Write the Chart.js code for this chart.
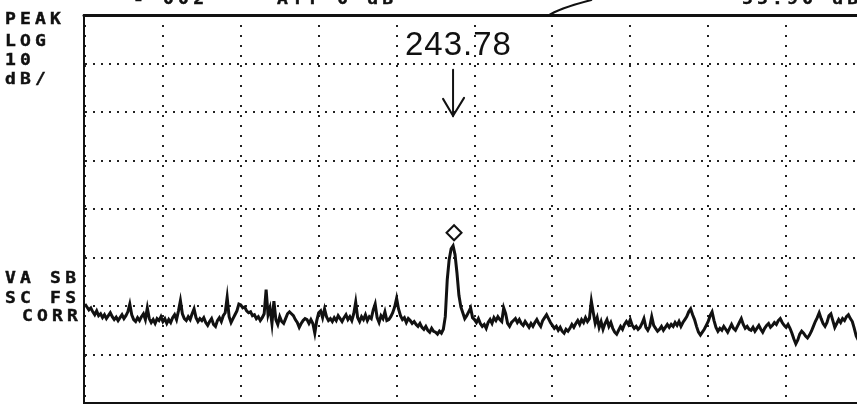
<!DOCTYPE html>
<html>
<head>
<meta charset="utf-8">
<script src="https://cdn.jsdelivr.net/npm/chart.js@4.4.1/dist/chart.umd.min.js"></script>
<style>
body{margin:0;background:#fff;overflow:hidden;}
#wrap{position:relative;width:857px;height:406px;overflow:hidden;background:#fff;}
#spec{position:absolute;left:0;top:0;}
.lbl{position:absolute;font-family:"DejaVu Sans Mono",monospace;font-weight:bold;font-size:15px;line-height:15px;letter-spacing:3.5px;color:#111;white-space:pre;transform:scaleX(1.2);transform-origin:0 0;-webkit-text-stroke:0.4px #111;}
.hand{position:absolute;font-family:"Liberation Sans",sans-serif;font-size:33px;line-height:33px;color:#111;white-space:pre;letter-spacing:1px;}
</style>
</head>
<body>
<div id="wrap">
<canvas id="spec" width="870" height="406"></canvas>
</div>
<script>
// trace, 401 points across 10 divisions, dB (top of screen = 0 dB, 10 dB/div)
const traceDb = [
-59.6,-60.2,-60.8,-60.4,-61.2,-61.8,-61.0,-62.0,-61.6,-62.4,-61.8,-62.6,-62.0,-61.4,-62.2,-62.8,-62.3,-63.0,-62.4,-61.8,
-62.6,-62.0,-61.2,-59.6,-61.8,-62.8,-63.2,-62.4,-63.0,-62.2,-61.6,-62.8,-60.4,-62.6,-63.4,-62.8,-63.6,-62.6,-63.0,-62.2,
-63.2,-62.6,-63.6,-62.8,-63.4,-62.4,-61.8,-62.8,-61.0,-58.9,-61.6,-62.6,-63.0,-62.2,-62.8,-61.6,-60.6,-62.4,-63.2,-62.6,
-63.0,-62.4,-63.4,-64.0,-63.2,-62.6,-63.8,-64.2,-63.0,-62.4,-63.2,-62.0,-61.4,-58.2,-62.2,-63.4,-62.6,-61.8,-61.0,-59.6,
-59.8,-60.4,-60.2,-61.0,-61.4,-61.2,-62.0,-61.8,-62.6,-62.2,-63.0,-62.4,-61.6,-56.6,-61.8,-60.4,-63.6,-59.0,-62.8,-63.8,
-62.2,-63.2,-63.6,-62.6,-61.6,-61.2,-61.6,-62.0,-62.8,-63.4,-64.4,-63.6,-63.0,-62.6,-62.8,-63.6,-62.8,-63.6,-65.6,-63.0,
-61.4,-61.0,-62.4,-60.6,-62.2,-63.0,-62.6,-63.2,-62.4,-63.0,-62.0,-62.6,-63.2,-62.4,-61.8,-62.8,-62.2,-63.0,-61.6,-59.2,
-62.4,-63.2,-62.2,-62.8,-61.8,-63.0,-62.2,-62.6,-60.8,-59.6,-62.4,-63.4,-62.0,-62.6,-61.2,-63.0,-62.8,-62.2,-61.4,-60.2,
-58.4,-60.6,-62.0,-62.8,-62.4,-63.4,-62.6,-63.0,-63.6,-63.2,-63.8,-64.2,-63.6,-64.4,-64.8,-64.2,-65.0,-65.4,-64.6,-65.2,
-65.4,-65.8,-65.2,-65.6,-64.8,-62.2,-54.6,-50.4,-48.2,-47.6,-49.4,-53.2,-57.8,-60.2,-61.4,-62.6,-62.0,-61.2,-60.4,-62.4,
-62.8,-63.4,-62.6,-63.6,-64.2,-63.8,-64.6,-63.4,-62.8,-63.6,-62.4,-63.0,-62.2,-62.8,-63.2,-60.4,-61.6,-63.6,-64.2,-63.4,
-63.0,-62.6,-63.4,-62.8,-63.6,-64.0,-63.2,-63.8,-64.4,-63.6,-64.2,-63.4,-62.8,-63.6,-64.2,-63.0,-62.4,-61.8,-62.6,-63.4,
-64.0,-64.6,-64.2,-65.0,-64.4,-65.2,-65.6,-64.8,-65.2,-64.6,-63.8,-64.4,-63.6,-63.0,-63.8,-62.8,-63.4,-62.4,-63.2,-62.6,
-59.0,-61.4,-63.6,-62.4,-64.4,-63.2,-64.8,-63.6,-62.8,-64.2,-63.4,-64.6,-65.4,-65.8,-65.0,-64.2,-64.8,-63.8,-63.2,-63.8,
-62.8,-64.0,-64.6,-64.2,-64.8,-64.4,-63.6,-62.6,-64.4,-65.0,-64.2,-62.2,-64.0,-64.6,-65.2,-64.8,-64.2,-65.0,-64.4,-63.8,
-64.4,-63.8,-64.2,-63.4,-64.0,-63.2,-64.2,-63.4,-62.8,-62.2,-61.2,-60.6,-61.8,-62.8,-64.2,-65.4,-66.0,-65.4,-64.8,-64.0,
-63.2,-62.0,-61.2,-63.0,-64.4,-65.2,-64.6,-65.0,-64.2,-64.8,-65.4,-64.6,-63.8,-64.6,-65.0,-64.2,-63.4,-62.6,-63.8,-64.6,
-64.2,-64.8,-65.0,-64.4,-65.2,-64.6,-64.0,-64.8,-65.4,-64.6,-64.0,-63.6,-64.4,-64.0,-63.4,-63.8,-63.0,-62.6,-63.4,-64.0,
-64.4,-63.8,-64.6,-65.6,-66.8,-67.8,-67.0,-65.8,-65.2,-65.6,-66.2,-66.6,-66.0,-65.2,-64.2,-63.2,-62.4,-61.4,-62.6,-63.6,
-64.2,-63.4,-62.0,-61.6,-63.0,-64.4,-63.6,-62.8,-63.4,-62.6,-63.0,-62.2,-61.8,-62.6,-63.2,-64.6,-66.2,-67.0,-66.0,-65.2,
-64.6
];

// marker (diamond) and the pen note above it
const markerIndex = [189.5];
const markerDb = [-44.9];
const markerNote = '243.78';

// graticule: 10 x 8 divisions
const xGrid = [0,40,80,120,160,200,240,280,320,360,400];
const dbGrid = [-80,-70,-60,-50,-40,-30,-20,-10,0];

// screen annotations
const leftTop = ['PEAK','LOG','10','dB/'];
const leftMid = ['VA SB','SC FS','CORR'];
const header = ['- 002','ATT 0 dB','55.90 dB'];

const wrap = document.getElementById('wrap');
function addLabel(cls, txt, left, top){
  const d = document.createElement('div');
  d.className = cls;
  d.textContent = txt;
  d.style.left = left + 'px';
  d.style.top = top + 'px';
  wrap.appendChild(d);
}
[12,34,53,72].forEach((t,i)=>addLabel('lbl', leftTop[i], 5, t));
addLabel('lbl', leftMid[0], 5, 271);
addLabel('lbl', leftMid[1], 5, 291);
addLabel('lbl', leftMid[2], 22, 309);
addLabel('lbl', header[0], 133, -8);
addLabel('lbl', header[1], 277, -8);
addLabel('lbl', header[2], 742, -8);
addLabel('hand', markerNote, 405, 27);

const plotter = {
  id:'plotter',
  afterDraw(chart){
    const {ctx, chartArea:a, scales:{x,y}} = chart;
    ctx.save();
    ctx.strokeStyle = '#111';
    ctx.lineCap = 'round';
    // frame
    ctx.lineWidth = 3;
    ctx.beginPath(); ctx.moveTo(a.left-1, a.top+0.5); ctx.lineTo(a.right, a.top+0.5); ctx.stroke();
    ctx.lineWidth = 2;
    ctx.beginPath(); ctx.moveTo(a.left-1, a.top); ctx.lineTo(a.left-1, a.bottom); ctx.lineTo(a.right, a.bottom); ctx.stroke();
    // arrow down to the marker
    const ax = x.getPixelForValue(markerIndex[0]) - 1;
    const y0 = y.getPixelForValue(-11.3), y1 = y.getPixelForValue(-20.8);
    ctx.lineWidth = 2;
    ctx.beginPath(); ctx.moveTo(ax, y0); ctx.lineTo(ax, y1); ctx.stroke();
    ctx.beginPath(); ctx.moveTo(ax-10, y1-17); ctx.lineTo(ax, y1); ctx.lineTo(ax+11, y1-18); ctx.stroke();
    // pen stroke over the top edge
    const px0 = x.getPixelForValue(237.5), px1 = x.getPixelForValue(260);
    ctx.lineWidth = 2;
    ctx.beginPath(); ctx.moveTo(px0, a.top+1); ctx.quadraticCurveTo(px0+12, a.top-7, px1, a.top-15); ctx.stroke();
    ctx.restore();
  }
};

new Chart(document.getElementById('spec'), {
  type:'line',
  data:{
    datasets:[{
      data: traceDb.map((v,i)=>({x:i, y:v})),
      borderColor:'#111',
      borderWidth:3,
      pointRadius:0,
      tension:0,
      fill:false
    },{
      data: markerIndex.map((v,i)=>({x:v, y:markerDb[i]})),
      showLine:false,
      pointStyle:'rectRot',
      pointRadius:7.5,
      pointBorderWidth:2,
      pointBorderColor:'#111',
      pointBackgroundColor:'#fff'
    }]
  },
  options:{
    responsive:false,
    animation:false,
    events:[],
    layout:{autoPadding:false, padding:{left:85,top:15,right:6,bottom:3}},
    plugins:{legend:{display:false},tooltip:{enabled:false}},
    scales:{
      x:{
        type:'linear', min:0, max:400,
        afterBuildTicks:s=>{ s.ticks = xGrid.map(v=>({value:v})); },
        ticks:{display:false},
        grid:{color:'#222', lineWidth:2, drawTicks:false},
        border:{display:false, dash:[2,8]}
      },
      y:{
        type:'linear', min:-80, max:0,
        afterBuildTicks:s=>{ s.ticks = dbGrid.map(v=>({value:v})); },
        ticks:{display:false},
        grid:{color:'#222', lineWidth:2, drawTicks:false},
        border:{display:false, dash:[2,6]}
      }
    }
  },
  plugins:[plotter]
});
</script>
</body>
</html>
